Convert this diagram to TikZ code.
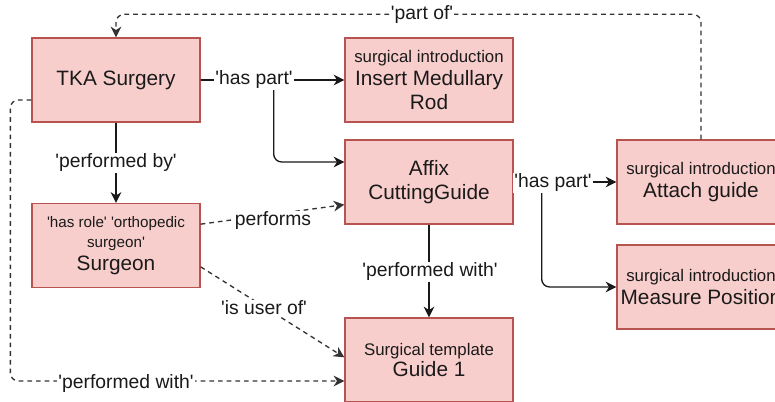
\documentclass[tikz,border=0pt]{standalone}
\usepackage{fontspec}
\setmainfont{Liberation Sans}
\usetikzlibrary{arrows.meta}
\definecolor{boxfill}{HTML}{F8CECC}
\definecolor{boxdraw}{HTML}{B85450}
\definecolor{txt}{HTML}{1A1A1A}
\newcommand\sq{\textquotesingle}
\newcommand\fmain{\fontsize{15.6}{18}\selectfont}
\newcommand\fsmall{\fontsize{12.6}{15}\selectfont}
\newcommand\ftiny{\fontsize{11.4}{14}\selectfont}
\newcommand\flab{\fontsize{14.5}{17}\selectfont}
\begin{document}
\begin{tikzpicture}[x=0.75pt,y=-0.75pt,
  box/.style={draw=boxdraw, fill=boxfill, line width=1pt, minimum width=126pt,
    minimum height=63pt, align=center, inner sep=0pt, font=\fmain, text=txt},
  conn/.style={line width=1pt, draw=black!90, rounded corners=6pt,
    -{Stealth[length=8pt,width=8pt,inset=2.5pt]}},
  dconn/.style={conn, draw=black!80, dash pattern=on 3.5pt off 3pt},
  lbl/.style={fill=white, inner sep=1pt, font=\flab, text=txt}]
\useasboundingbox (0,0) rectangle (775,402);
\clip (0,0) rectangle (775,402);
% nodes
\node[box] (tka) at (116,80) {TKA Surgery};
\node[box] (rod) at (429,80) {{\fsmall surgical introduction}\\[-1pt]Insert Medullary\\Rod};
\node[box] (affix) at (429,182) {Affix\\CuttingGuide};
\node[box] (surgeon) at (116,245.5) {{\ftiny \sq has role\sq\ \sq orthopedic}\\[-3pt]{\ftiny surgeon\sq}\\[-1pt]Surgeon};
\node[box] (guide) at (429,360) {{\fsmall Surgical template}\\[-2pt]Guide 1};
\node[box] (attach) at (701,182) {{\fsmall surgical introduction}\\[-1pt]Attach guide};
\node[box] (measure) at (701,287) {{\fsmall surgical introduction}\\[-1pt]Measure Position};
% connectors
\draw[dconn] (attach.north) -- ++(0,-125) -| (tka.north);
\draw[conn] (tka.east) -- (rod.west);
\draw[conn] (tka.east) -- ++(73,0) |- ([yshift=15pt]affix.west);
\draw[conn] (tka.south) -- (surgeon.north);
\draw[dconn] ([yshift=16pt]surgeon.east) -- ([yshift=-17pt]affix.west);
\draw[dconn] ([yshift=-16pt]surgeon.east) -- ([yshift=2pt]guide.west);
\draw[dconn] ([yshift=-15pt]tka.west) -- ++(-21,0) |- ([yshift=-15.75pt]guide.west);
\draw[conn] (affix.south) -- (guide.north);
\draw[conn] (affix.east) -- (attach.west);
\draw[conn] (affix.east) -- ++(28,0) |- (measure.west);
% labels
\node[lbl] (lpartof) at (422,15) {\sq part of\sq};
\node[lbl] (lhaspart1) at (254,80) {\sq has part\sq};
\node[lbl] (lperfby) at (116,163) {\sq performed by\sq};
\node[lbl] (lperforms) at (273,221) {performs};
\node[lbl] (luser) at (264,308) {\sq is user of\sq};
\node[lbl] (lperfwith1) at (126,384) {\sq performed with\sq};
\node[lbl] (lperfwith2) at (430,272) {\sq performed with\sq};
\node[lbl] (lhaspart2) at (553,183) {\sq has part\sq};
\end{tikzpicture}
\end{document}
